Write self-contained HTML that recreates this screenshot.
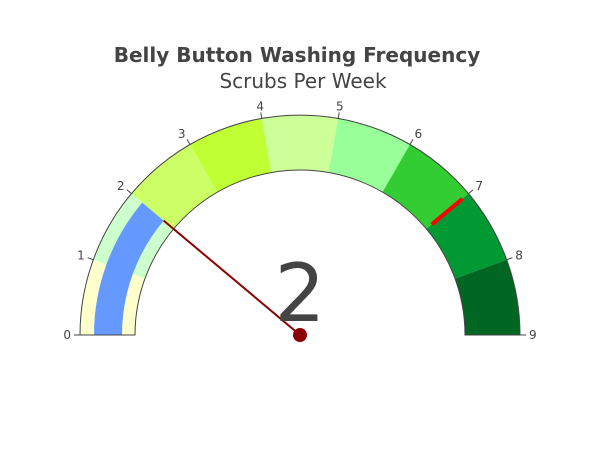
<!DOCTYPE html>
<html><head><meta charset="utf-8"><style>
body{margin:0;background:#fff;}
svg{display:block;font-family:"DejaVu Sans","Liberation Sans",sans-serif;}
</style></head><body>
<svg id="chart" width="600" height="450">
<text x="297" y="62" text-anchor="middle" font-size="20" font-weight="bold" fill="#444">Belly Button Washing Frequency</text>
<text x="303" y="88" text-anchor="middle" font-size="20" fill="#444">Scrubs Per Week</text>
<g id="g"></g>
</svg>
<script>
const stepRanges = [[0,1],[1,2],[2,3],[3,4],[4,5],[5,6],[6,7],[7,8],[8,9]];
const stepColors = ["#ffffcc","#ccffcc","#ccff66","#bfff33","#ccff99","#99ff99","#33cc33","#009933","#006622"];
const tickValues = [0,1,2,3,4,5,6,7,8,9];
const gaugeValue = 2;
const thresholdValue = 7;
const axisMax = 9;

const NS="http://www.w3.org/2000/svg";
const g=document.getElementById('g');
const cx=300, cy=335, R=220, Ri=165, Rb1=206, Rb0=178;
function ang(v){return Math.PI - v/axisMax*Math.PI;}
function pt(v,r){const a=ang(v);return [cx+r*Math.cos(a), cy-r*Math.sin(a)];}
function arc(v0,v1,r0,r1){
  const a=pt(v0,r1),b=pt(v1,r1),c=pt(v1,r0),d=pt(v0,r0);
  return `M${a[0]},${a[1]} A${r1},${r1} 0 0 1 ${b[0]},${b[1]} L${c[0]},${c[1]} A${r0},${r0} 0 0 0 ${d[0]},${d[1]} Z`;
}
function mk(tag,attrs){const e=document.createElementNS(NS,tag);for(const k in attrs)e.setAttribute(k,attrs[k]);g.appendChild(e);return e;}
stepRanges.forEach((s,i)=>{
  const p=mk('path',{d:arc(s[0],s[1],Ri,R),fill:stepColors[i]});
  
  
});
const bar=mk('path',{d:arc(0,gaugeValue,Rb0,Rb1),fill:"#6699ff"});


const outline=mk('path',{d:arc(0,axisMax,Ri,R),fill:"none",stroke:"#444","stroke-width":1});


const t0=pt(thresholdValue,Rb0-6),t1=pt(thresholdValue,Rb1+6);
const th=mk('line',{x1:t0[0],y1:t0[1],x2:t1[0],y2:t1[1],stroke:"red","stroke-width":4});


tickValues.forEach(v=>{
  const a=pt(v,R),b=pt(v,R+6),l=pt(v,R+9);
  const tk=mk('line',{x1:a[0],y1:a[1],x2:b[0],y2:b[1],stroke:"#444","stroke-width":1});
  
  
  const an=ang(v);
  const tx=mk('text',{x:l[0],y:l[1]+4-Math.sin(an)*3,"text-anchor":Math.cos(an)<-0.3?"end":(Math.cos(an)>0.3?"start":"middle"),"font-size":12,fill:"#444"});
  tx.textContent=v;
  
  
});
const n=pt(gaugeValue,Rb0);
const nd=mk('line',{x1:cx,y1:cy,x2:n[0],y2:n[1],stroke:"darkred","stroke-width":2});


const dot=mk('circle',{cx:cx,cy:cy,r:7,fill:"darkred"});


const num=mk('text',{x:cx,y:cy-14,"text-anchor":"middle","font-size":80,fill:"#444"});
num.textContent=gaugeValue;


</script>
</body></html>
